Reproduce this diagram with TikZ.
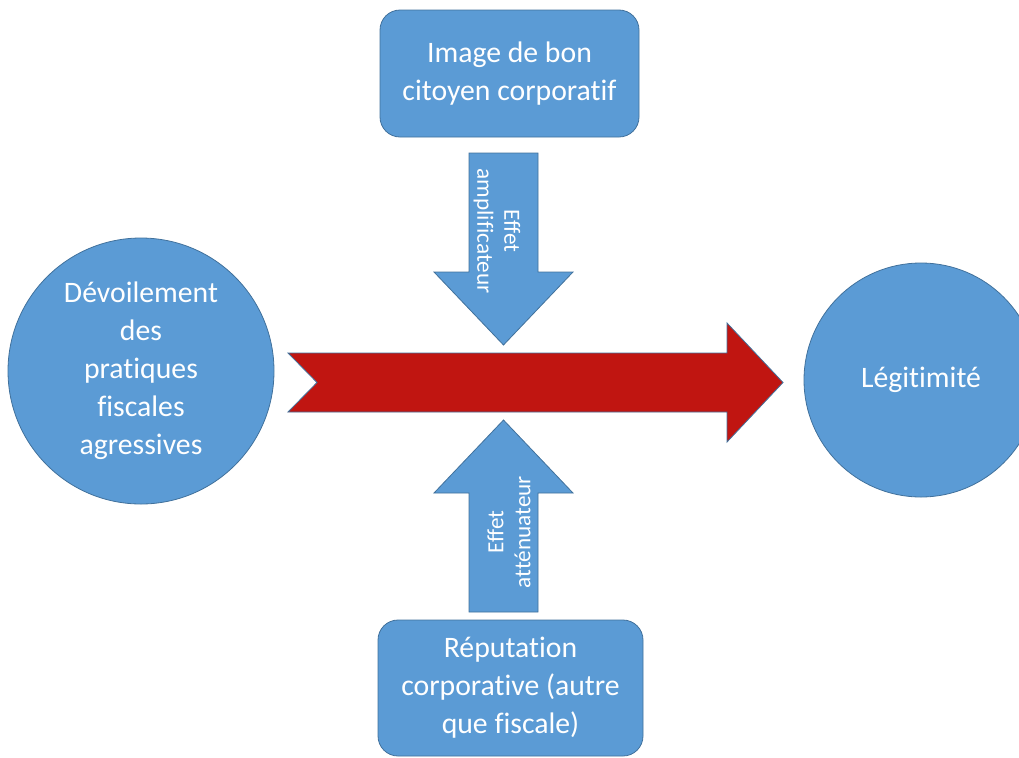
\documentclass[tikz,border=0pt]{standalone}
\usepackage{fontspec}
\setmainfont{Carlito}[Ligatures=NoCommon]
\definecolor{boxblue}{RGB}{91,155,213}
\definecolor{edgeblue}{RGB}{65,113,156}
\definecolor{arrowred}{RGB}{192,21,17}

\begin{document}
\begin{tikzpicture}[x=0.75pt, y=-0.75pt,
    bubble/.style={circle, fill=boxblue, draw=edgeblue, semithick, text=white, align=center,
      inner sep=0pt, font=\fontsize{22.3}{28.5}\selectfont},
    card/.style={rectangle, rounded corners=15pt, fill=boxblue, draw=edgeblue, semithick, text=white,
      align=center, inner sep=0pt, font=\fontsize{22.3}{28.5}\selectfont},
    block/.style={fill=boxblue, draw=edgeblue, semithick},
    effect/.style={text=white, align=center, inner sep=0pt, font=\fontsize{17.4}{20.25}\selectfont}]
    \useasboundingbox (0,0) rectangle (1019,757);
    \clip (0,0) rectangle (1019,757);

    % main flow
    \fill[arrowred, draw=edgeblue, semithick] (288,353) -- (727,353) -- (727,323) -- (783,382.5)
      -- (727,442) -- (727,412) -- (288,412) -- (317,382.5) -- cycle;

    \node[bubble, minimum size=199.5pt] (reveal) at (141,371)
      {Dévoilement\\des\\pratiques\\fiscales\\agressives};
    \node[bubble, minimum size=175.5pt] (legit) at (921,380) {Légitimité};

    % moderating factors
    \node[card, minimum width=194.25pt, minimum height=95.25pt] (citizen) at (509.5,73.5)
      {Image de bon\\citoyen corporatif};
    \node[card, minimum width=198.75pt, minimum height=102pt] (rep) at (510.5,688)
      {Réputation\\corporative (autre\\que fiscale)};

    \draw[block] (469,153) -- (538,153) -- (538,272) -- (573,272) -- (503.5,345)
      -- (434,272) -- (469,272) -- cycle;
    \draw[block] (469,612) -- (538,612) -- (538,493) -- (573,493) -- (503.5,420)
      -- (434,493) -- (469,493) -- cycle;

    \node[effect, rotate=-90] (amp) at (497,231) {Effet\\amplificateur};
    \node[effect, rotate=90] (att) at (509,532) {Effet\\atténuateur};
\end{tikzpicture}
\end{document}
